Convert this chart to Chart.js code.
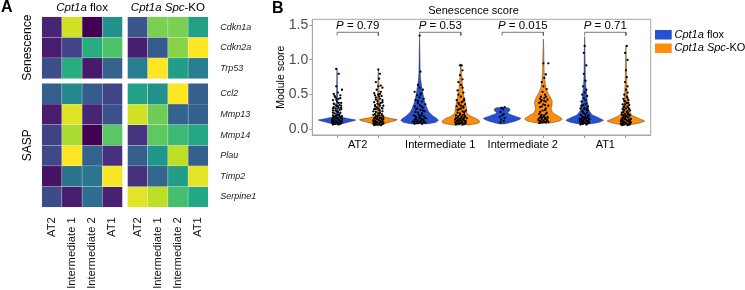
<!DOCTYPE html>
<html>
<head>
<meta charset="utf-8">
<script src="https://cdn.jsdelivr.net/npm/chart.js@4.4.1/dist/chart.umd.min.js"></script>
<style>
  body { margin: 0; background: #fff; width: 745px; height: 290px; overflow: hidden; position: relative; }
  #heat { position: absolute; left: 0; top: 0; width: 265px; height: 290px; }
  #violin { position: absolute; left: 265px; top: 0; width: 480px; height: 290px; }
</style>
</head>
<body>
<canvas id="heat" width="265" height="290"></canvas>
<canvas id="violin" width="480" height="290"></canvas>
<script>
// ---- panel A data ----
var CELL_TYPES = ['AT2', 'Intermediate 1', 'Intermediate 2', 'AT1'];
var SEN_GENES = ['Cdkn1a', 'Cdkn2a', 'Trp53'];
var SASP_GENES = ['Ccl2', 'Mmp13', 'Mmp14', 'Plau', 'Timp2', 'Serpine1'];
// scaled expression (0..1), rows in gene order, columns in CELL_TYPES order
var FLOX_SCALED = [
  [0.10, 0.93, 0.00, 0.50],
  [0.08, 0.20, 0.62, 0.72],
  [0.24, 0.62, 0.07, 0.31],
  [0.30, 0.47, 0.29, 0.20],
  [0.08, 0.95, 0.10, 0.26],
  [0.19, 0.87, 0.00, 0.74],
  [0.22, 1.00, 0.31, 0.14],
  [0.05, 0.38, 0.39, 0.99],
  [0.23, 0.08, 0.36, 0.09]
];
var KO_SCALED = [
  [0.27, 0.80, 0.80, 0.57],
  [0.08, 0.28, 0.82, 1.00],
  [0.42, 1.00, 0.55, 0.42],
  [0.57, 0.50, 1.00, 0.30],
  [0.93, 0.78, 0.32, 0.30],
  [0.15, 0.75, 0.68, 0.60],
  [0.30, 0.52, 0.90, 0.30],
  [0.14, 0.33, 0.55, 0.96],
  [0.96, 0.90, 0.70, 0.60]
];

// ---- panel B data ----
var GROUPS = ['AT2', 'Intermediate 1', 'Intermediate 2', 'AT1'];
var P_VALUES = ['0.79', '0.53', '0.015', '0.71'];
// violin outlines: [score, relative half width]
var FLOX_DENSITY = [
  [[.064,0],[.08,.25],[.1,.55],[.12,.85],[.136,1],[.15,.7],[.17,.35],[.2,.1],[.25,.05],[.35,.04],[.5,.03],[.65,.02],[.8,.015],[.874,0]],
  [[.079,.4],[.1,.85],[.13,1],[.16,.9],[.2,.68],[.25,.5],[.3,.4],[.35,.33],[.42,.25],[.5,.19],[.56,.15],[.66,.09],[.75,.05],[.85,.035],[1.0,.025],[1.2,.015],[1.35,0]],
  [[.079,.15],[.11,.6],[.14,.9],[.16,1],[.19,.7],[.22,.38],[.245,.3],[.265,.4],[.29,.42],[.31,.32],[.32,0]],
  [[.079,.3],[.1,.75],[.13,1],[.16,.8],[.21,.4],[.26,.26],[.3,.2],[.41,.14],[.53,.1],[.6,.07],[.75,.04],[1.0,.025],[1.2,.015],[1.336,0]]
];
var KO_DENSITY = [
  [[.05,0],[.07,.2],[.1,.55],[.12,.85],[.14,1],[.155,.7],[.18,.3],[.21,.1],[.26,.06],[.35,.05],[.5,.04],[.65,.03],[.8,.015],[.874,0]],
  [[.064,.45],[.09,.95],[.12,1],[.15,.85],[.18,.6],[.21,.4],[.24,.32],[.28,.31],[.33,.28],[.38,.24],[.45,.18],[.55,.12],[.65,.08],[.8,.04],[.945,0]],
  [[.089,.3],[.12,.85],[.15,1],[.19,.8],[.24,.5],[.29,.42],[.34,.45],[.4,.47],[.46,.38],[.52,.25],[.6,.14],[.7,.08],[.85,.04],[1.0,.03],[1.15,.02],[1.3,0]],
  [[.064,.2],[.09,.7],[.12,1],[.15,.75],[.2,.35],[.25,.2],[.3,.14],[.4,.1],[.5,.07],[.7,.04],[1.0,.02],[1.207,0]]
];
// jittered cells: [x offset, score]
var FLOX_DOTS = [
  [[-.05,.07],[-.02,.08],[.02,.07],[.05,.09],[-.04,.10],[0,.10],[.03,.11],[-.06,.12],[-.01,.12],[.05,.12],[-.03,.14],[.02,.14],[.06,.15],[-.05,.16],[0,.16],[.04,.17],[-.02,.18],[.03,.19],[-.05,.20],[.01,.21],[-.03,.23],[.04,.24],[0,.26],[-.05,.27],[.03,.28],[-.02,.30],[.05,.31],[-.04,.32],[.01,.33],[.03,.35],[-.03,.36],[.05,.38],[0,.40],[-.05,.42],[.02,.44],[-.02,.46],[.04,.49],[-.04,.51],[.01,.53],[.06,.57],[-.01,.62],[.02,.8],[-.01,.87],
   [-.03,.08],[.04,.08],[-.06,.09],[.01,.09],[-.02,.11],[.06,.11],[-.04,.125],[.03,.13],[-.06,.14],[.01,.15],[-.02,.16],[.05,.165],[-.04,.185],[.06,.19],[-.01,.2],[.03,.22],[-.05,.24],[.01,.25],[-.02,.27],[.05,.29],[-.05,.3],[.02,.31],[-.01,.34],[.05,.34],[-.04,.37],[.02,.38],[-.01,.43],[.04,.45],[-.03,.48]],
  [[-.06,.08],[-.02,.09],[.03,.08],[.07,.1],[-.08,.11],[-.03,.12],[.01,.12],[.05,.13],[-.06,.14],[.02,.15],[.08,.16],[-.04,.17],[0,.18],[.05,.19],[-.07,.2],[-.01,.21],[.03,.23],[-.05,.25],[.06,.26],[.01,.28],[-.03,.3],[.04,.31],[-.06,.33],[0,.35],[.07,.36],[-.02,.38],[.03,.4],[-.05,.42],[.05,.44],[0,.46],[-.03,.49],[.02,.52],[-.06,.54],[.04,.57],[0,.6],[-.02,.64],[.01,.83],[0,1.35],
   [-.04,.09],[0,.1],[.05,.1],[-.06,.11],[.02,.11],[-.02,.13],[.04,.14],[-.04,.15],[0,.16],[.06,.17],[-.05,.19],[.02,.2],[-.02,.24],[.04,.27],[-.04,.29],[.02,.33],[-.02,.41],[.01,.5]],
  [[-.02,.1],[.02,.12],[-.01,.14],[.03,.16],[-.03,.18],[0,.2],[.02,.22],[-.02,.25],[.01,.29],[-.01,.31],[.03,.32]],
  [[-.05,.07],[-.02,.08],[.02,.07],[.05,.09],[-.04,.1],[0,.1],[.04,.11],[-.06,.12],[-.02,.13],[.02,.13],[.05,.14],[-.04,.15],[0,.16],[.04,.17],[-.03,.18],[.01,.19],[.05,.2],[-.05,.21],[-.01,.23],[.03,.24],[-.03,.26],[.02,.28],[-.05,.3],[0,.31],[.04,.33],[-.02,.35],[.02,.37],[-.04,.4],[.01,.42],[-.01,.45],[.03,.48],[-.03,.5],[0,.53],[.02,.57],[-.02,.62],[.01,.7],[-.01,.8],[.02,.92],[-.01,1.1],[0,1.2],
   [-.03,.08],[.03,.08],[-.05,.09],[.01,.09],[-.02,.11],[.05,.11],[-.04,.12],[.03,.12],[-.01,.14],[.06,.15],[-.06,.15],[.02,.16],[-.02,.17],[.04,.19],[-.04,.2],[.01,.22],[-.02,.25],[.04,.27],[-.01,.29],[.03,.3],[-.04,.34],[.01,.36]]
];
var KO_DOTS = [
  [[-.05,.06],[-.01,.07],[.03,.06],[.06,.08],[-.04,.09],[.01,.09],[.04,.10],[-.06,.11],[-.02,.11],[.02,.12],[.05,.13],[-.04,.13],[0,.14],[.04,.15],[-.05,.16],[-.01,.17],[.03,.17],[.06,.18],[-.03,.19],[.01,.2],[-.06,.21],[.04,.22],[0,.23],[-.03,.25],[.05,.26],[.02,.27],[-.05,.29],[0,.3],[.04,.31],[-.02,.32],[.06,.34],[-.04,.35],[.01,.36],[.03,.38],[-.05,.39],[-.01,.41],[.05,.42],[.02,.44],[-.03,.46],[.04,.48],[0,.5],[-.05,.52],[.03,.54],[-.02,.57],[.05,.6],[0,.62],[.03,.63],[-.03,.68],[.01,.73],[.02,.8],[0,.86],
   [-.03,.07],[.04,.07],[-.06,.08],[.01,.08],[-.02,.1],[.06,.1],[-.04,.11],[.03,.11],[-.06,.13],[.01,.13],[-.02,.15],[.06,.15],[-.04,.165],[.02,.165],[-.01,.19],[.05,.2],[-.04,.22],[.02,.24],[-.06,.26],[.01,.28],[-.03,.29],[.05,.3],[-.04,.33],[.02,.34],[-.01,.37],[.05,.39],[-.03,.43],[.01,.47],[-.04,.49],[.02,.51]],
  [[-.06,.07],[-.02,.08],[.02,.07],[.06,.09],[-.07,.1],[-.03,.1],[.01,.11],[.05,.11],[-.05,.12],[0,.13],[.04,.13],[-.07,.14],[-.02,.15],[.03,.15],[.07,.16],[-.04,.17],[.01,.18],[.05,.19],[-.06,.2],[-.01,.21],[.04,.22],[-.04,.24],[.02,.26],[.06,.27],[-.02,.29],[.03,.31],[-.05,.33],[0,.34],[.05,.36],[-.03,.38],[.02,.4],[-.05,.42],[.04,.44],[0,.47],[-.03,.5],[.03,.53],[-.04,.56],[.02,.6],[0,.64],[-.03,.68],[.02,.72],[-.01,.78],[.02,.85],[-.01,.92],[.01,.92],
   [-.04,.08],[.04,.08],[0,.09],[-.06,.09],[.02,.1],[-.02,.12],[.06,.12],[-.04,.135],[.02,.14],[-.06,.16],[0,.16],[.04,.17],[-.03,.19],[.02,.2],[-.01,.23],[.04,.25],[-.04,.28],[0,.3],[.03,.33],[-.02,.36],[.01,.39],[.04,.42]],
  [[-.05,.09],[-.01,.1],[.03,.1],[.06,.11],[-.04,.12],[0,.13],[.04,.14],[-.06,.15],[-.02,.16],[.02,.17],[.05,.18],[-.03,.19],[.01,.2],[-.05,.22],[.04,.24],[-.01,.27],[.03,.3],[-.04,.32],[.06,.34],[0,.36],[-.05,.38],[.03,.4],[-.02,.42],[.05,.43],[.01,.45],[-.03,.47],[.02,.5],[-.01,.54],[.04,.58],[0,.62],[-.02,.68],[.01,.74],[.03,.79],[0,.95],[.06,.95],
   [-.03,.1],[.01,.11],[.04,.12],[-.06,.13],[-.02,.14],[.02,.15],[.05,.16],[-.04,.17],[0,.18],[-.02,.21],[.03,.22],[-.04,.25],[.02,.28],[-.02,.33],[.02,.35],[-.03,.4],[.01,.41],[-.04,.44],[.03,.47]],
  [[-.05,.06],[-.02,.07],[.02,.06],[.05,.08],[-.04,.09],[0,.09],[.04,.1],[-.06,.11],[-.02,.11],[.02,.12],[.05,.12],[-.04,.13],[0,.14],[.04,.14],[-.05,.15],[-.01,.16],[.03,.17],[-.03,.18],[.01,.19],[.05,.2],[-.05,.21],[-.01,.22],[.03,.23],[-.03,.25],[.02,.26],[.05,.27],[-.04,.29],[0,.3],[.03,.31],[-.02,.33],[.04,.35],[-.04,.36],[.01,.38],[-.01,.4],[.03,.42],[-.03,.44],[.01,.47],[-.02,.5],[.02,.53],[0,.57],[.02,.62],[-.01,.68],[.01,.75],[0,.85],[.02,1.0],[-.01,1.1],[.01,1.2],
   [-.03,.07],[.04,.07],[-.06,.08],[.01,.08],[-.02,.1],[.06,.1],[-.04,.115],[.03,.115],[-.06,.13],[.01,.13],[-.02,.15],[.06,.15],[-.04,.165],[.02,.17],[-.01,.19],[.04,.2],[-.03,.21],[.02,.22],[-.05,.24],[.01,.25],[-.02,.28],[.04,.29],[-.03,.32],[.02,.33],[-.01,.36],[.03,.38],[-.02,.41],[.02,.45]]
];

var FONT = '"Liberation Sans", Arial, sans-serif';
var BLUE = '#2650d2';
var ORANGE = '#ff8c0a';
var VIRIDIS = ['#440154', '#482475', '#414487', '#355f8d', '#2a788e', '#21918c', '#22a884', '#44bf70', '#7ad151', '#bddf26', '#fde725'];
var HALF_WIDTH = 0.228;
var ROW_GAP = 0.23;
var COL_GAP = 0.25;

Chart.defaults.font.family = FONT;
Chart.defaults.color = '#000';

function hexToRgb(h) {
  return [parseInt(h.substr(1, 2), 16), parseInt(h.substr(3, 2), 16), parseInt(h.substr(5, 2), 16)];
}
function viridis(v) {
  var t = Math.max(0, Math.min(1, v)) * (VIRIDIS.length - 1);
  var i = Math.min(Math.floor(t), VIRIDIS.length - 2);
  var f = t - i;
  var a = hexToRgb(VIRIDIS[i]), b = hexToRgb(VIRIDIS[i + 1]);
  return 'rgb(' + a.map(function(c, k) { return Math.round(c + (b[k] - c) * f); }).join(',') + ')';
}

// draw text made of [text, italic] parts
function drawParts(ctx, parts, x, y, size, align) {
  var total = 0;
  parts.forEach(function(p) {
    ctx.font = (p[1] ? 'italic ' : '') + size + 'px ' + FONT;
    total += ctx.measureText(p[0]).width;
  });
  var cx = align === 'left' ? x : x - total / 2;
  ctx.textAlign = 'left';
  ctx.textBaseline = 'middle';
  parts.forEach(function(p) {
    ctx.font = (p[1] ? 'italic ' : '') + size + 'px ' + FONT;
    ctx.fillText(p[0], cx, y);
    cx += ctx.measureText(p[0]).width;
  });
}

// ---------- panel A: heatmap ----------
var genes = SEN_GENES.concat(SASP_GENES);
var colX = [];
CELL_TYPES.forEach(function(c, j) { colX.push(j); });
CELL_TYPES.forEach(function(c, j) { colX.push(CELL_TYPES.length + COL_GAP + j); });
function rowTop(r) { return r + (r >= SEN_GENES.length ? ROW_GAP : 0); }

var heatDatasets = genes.map(function(g, r) {
  var vals = FLOX_SCALED[r].concat(KO_SCALED[r]);
  return {
    label: g,
    yAxisID: 'yr',
    grouped: false,
    data: vals.map(function(v, j) { return {x: colX[j], y: [rowTop(r), rowTop(r) + 1]}; }),
    backgroundColor: vals.map(viridis),
    borderColor: 'rgba(235,235,240,0.8)',
    borderWidth: 0.5,
    barPercentage: 1,
    categoryPercentage: 1
  };
});

var heatText = {
  id: 'heatText',
  afterDraw: function(chart) {
    var ctx = chart.ctx, xs = chart.scales.x, ys = chart.scales.yr;
    ctx.save();
    ctx.fillStyle = '#000';
    ctx.font = 'bold 16px ' + FONT;
    ctx.textAlign = 'left';
    ctx.textBaseline = 'top';
    ctx.fillText('A', 1, 0);
    var y0 = 8;
    drawParts(ctx, [['Cpt1a', true], [' flox', false]], xs.getPixelForValue((colX[0] + colX[3]) / 2), y0, 11.5);
    drawParts(ctx, [['Cpt1a', true], [' ', false], ['Spc', true], ['-KO', false]], xs.getPixelForValue((colX[4] + colX[7]) / 2), y0, 11.5);
    ctx.font = '12px ' + FONT;
    ctx.textAlign = 'center';
    ctx.textBaseline = 'middle';
    var groups = [['Senescence', rowTop(0), rowTop(SEN_GENES.length - 1) + 1], ['SASP', rowTop(SEN_GENES.length), rowTop(genes.length - 1) + 1]];
    groups.forEach(function(g) {
      ctx.save();
      ctx.translate(28, ys.getPixelForValue((g[1] + g[2]) / 2));
      ctx.rotate(-Math.PI / 2);
      ctx.fillText(g[0], 0, 0);
      ctx.restore();
    });
    ctx.restore();
  }
};

new Chart(document.getElementById('heat'), {
  type: 'bar',
  data: { datasets: heatDatasets },
  options: {
    responsive: false,
    animation: false,
    layout: { padding: { left: 41.7, top: 16.7, right: 0, bottom: 0 } },
    plugins: { legend: { display: false }, tooltip: { enabled: false } },
    scales: {
      x: {
        type: 'linear',
        offset: false,
        min: -0.5,
        max: colX[7] + 0.5,
        grid: { display: false },
        border: { display: false },
        afterBuildTicks: function(scale) {
          scale.ticks = colX.map(function(v) { return {value: v}; });
        },
        afterFit: function(scale) { scale.height = 82.7; },
        ticks: {
          autoSkip: false,
          minRotation: 90,
          maxRotation: 90,
          padding: 2,
          color: '#111',
          font: { size: 11.2 },
          callback: function(v, i) { return CELL_TYPES[i % CELL_TYPES.length]; }
        }
      },
      yr: {
        type: 'linear',
        position: 'right',
        reverse: true,
        min: 0,
        max: genes.length + ROW_GAP,
        grid: { display: false },
        border: { display: false },
        afterBuildTicks: function(scale) {
          scale.ticks = genes.map(function(g, r) { return {value: rowTop(r) + 0.5}; });
        },
        afterFit: function(scale) { scale.width = 56.7; },
        ticks: {
          autoSkip: false,
          padding: 4,
          color: '#222',
          font: { size: 9, style: 'italic' },
          callback: function(v, i) { return genes[i]; }
        }
      }
    }
  },
  plugins: [heatText]
});

// ---------- panel B: violins ----------
function violinOutline(center, dens) {
  var right = dens.map(function(d) { return {x: center + d[1] * HALF_WIDTH, y: d[0]}; });
  var left = dens.slice().reverse().map(function(d) { return {x: center - d[1] * HALF_WIDTH, y: d[0]}; });
  var pts = right.concat(left);
  pts.push(right[0]);
  return pts;
}
function dotPoints(center, dots) {
  return dots.map(function(d) { return {x: center + d[0], y: d[1]}; });
}

var BRACKET_Y = 1.397;
var BRACKET_LEG = 1.35;
var violinDatasets = [];
GROUPS.forEach(function(g, i) {
  var cf = i + 0.75, ck = i + 1.25;
  violinDatasets.push({
    type: 'scatter', data: dotPoints(cf, FLOX_DOTS[i]), order: 0,
    pointRadius: 1.15, pointBackgroundColor: '#000', pointBorderWidth: 0
  });
  violinDatasets.push({
    type: 'scatter', data: dotPoints(ck, KO_DOTS[i]), order: 0,
    pointRadius: 1.15, pointBackgroundColor: '#000', pointBorderWidth: 0
  });
  violinDatasets.push({
    type: 'line', order: 0, pointRadius: 0, borderColor: '#555', borderWidth: 0.8, fill: false, tension: 0,
    data: [{x: cf, y: BRACKET_LEG}, {x: cf, y: BRACKET_Y}, {x: ck, y: BRACKET_Y}, {x: ck, y: BRACKET_LEG}]
  });
  violinDatasets.push({
    type: 'line', data: violinOutline(cf, FLOX_DENSITY[i]), order: 2,
    pointRadius: 0, borderColor: 'rgba(40,40,40,0.85)', borderWidth: 0.5,
    backgroundColor: BLUE, fill: 'shape', tension: 0.15
  });
  violinDatasets.push({
    type: 'line', data: violinOutline(ck, KO_DENSITY[i]), order: 2,
    pointRadius: 0, borderColor: 'rgba(40,40,40,0.85)', borderWidth: 0.5,
    backgroundColor: ORANGE, fill: 'shape', tension: 0.15
  });
});

var violinText = {
  id: 'violinText',
  afterDraw: function(chart) {
    var ctx = chart.ctx, a = chart.chartArea, xs = chart.scales.x, ys = chart.scales.y;
    ctx.save();
    // panel border
    ctx.strokeStyle = '#a6a6a6';
    ctx.lineWidth = 1;
    ctx.strokeRect(a.left, a.top, a.right - a.left, a.bottom - a.top);
    ctx.fillStyle = '#000';
    ctx.font = 'bold 16px ' + FONT;
    ctx.textAlign = 'left';
    ctx.textBaseline = 'top';
    ctx.fillText('B', 7, 1);
    ctx.font = '11px ' + FONT;
    ctx.textAlign = 'center';
    ctx.textBaseline = 'middle';
    ctx.fillText('Senescence score', (a.left + a.right) / 2 - 8, 10.5);
    GROUPS.forEach(function(g, i) {
      drawParts(ctx, [['P', true], [' = ' + P_VALUES[i], false]], xs.getPixelForValue(i + 1), ys.getPixelForValue(BRACKET_Y) - 6.5, 11.5);
    });
    // legend
    var lx = a.right + 4.3;
    ctx.fillStyle = BLUE;
    ctx.fillRect(lx, 30, 16.7, 9.5);
    ctx.fillStyle = ORANGE;
    ctx.fillRect(lx, 43.5, 16.7, 9.5);
    ctx.fillStyle = '#000';
    drawParts(ctx, [['Cpt1a', true], [' flox', false]], lx + 19.5, 34.8, 11, 'left');
    drawParts(ctx, [['Cpt1a', true], [' ', false], ['Spc', true], ['-KO', false]], lx + 19.5, 48.3, 11, 'left');
    ctx.restore();
  }
};

new Chart(document.getElementById('violin'), {
  type: 'scatter',
  data: { datasets: violinDatasets },
  options: {
    responsive: false,
    animation: false,
    layout: { padding: { left: 0, top: 19.3, right: 94.3, bottom: 0 } },
    plugins: { legend: { display: false }, tooltip: { enabled: false } },
    scales: {
      x: {
        type: 'linear',
        min: 0.45,
        max: 4.55,
        border: { display: true, color: '#a6a6a6' },
        grid: {
          drawOnChartArea: false,
          tickLength: 3,
          tickColor: function(c) { return c.tick && Number.isInteger(c.tick.value) ? 'rgba(0,0,0,0)' : '#999'; }
        },
        afterBuildTicks: function(scale) {
          var t = [];
          GROUPS.forEach(function(g, i) { t.push({value: i + 0.75}, {value: i + 1}, {value: i + 1.25}); });
          scale.ticks = t;
        },
        afterFit: function(scale) { scale.height = 155; },
        ticks: {
          autoSkip: false,
          minRotation: 0,
          maxRotation: 0,
          padding: 0,
          color: '#000',
          font: { size: 11 },
          callback: function(v) { return Number.isInteger(v) ? GROUPS[v - 1] : ''; }
        }
      },
      y: {
        type: 'linear',
        min: -0.081,
        max: 1.584,
        border: { display: true, color: '#a6a6a6' },
        grid: { drawOnChartArea: false, tickLength: 3, tickColor: '#999' },
        afterBuildTicks: function(scale) {
          scale.ticks = [0, 0.5, 1, 1.5].map(function(v) { return {value: v}; });
        },
        afterFit: function(scale) { scale.width = 47.3; },
        title: { display: true, text: 'Module score', font: { size: 10.5 }, color: '#000', padding: { top: 10, bottom: 0 } },
        ticks: {
          padding: 1,
          color: '#4d4d4d',
          font: { size: 14 },
          callback: function(v) { return v.toFixed(1); }
        }
      }
    }
  },
  plugins: [violinText]
});
</script>
</body>
</html>
